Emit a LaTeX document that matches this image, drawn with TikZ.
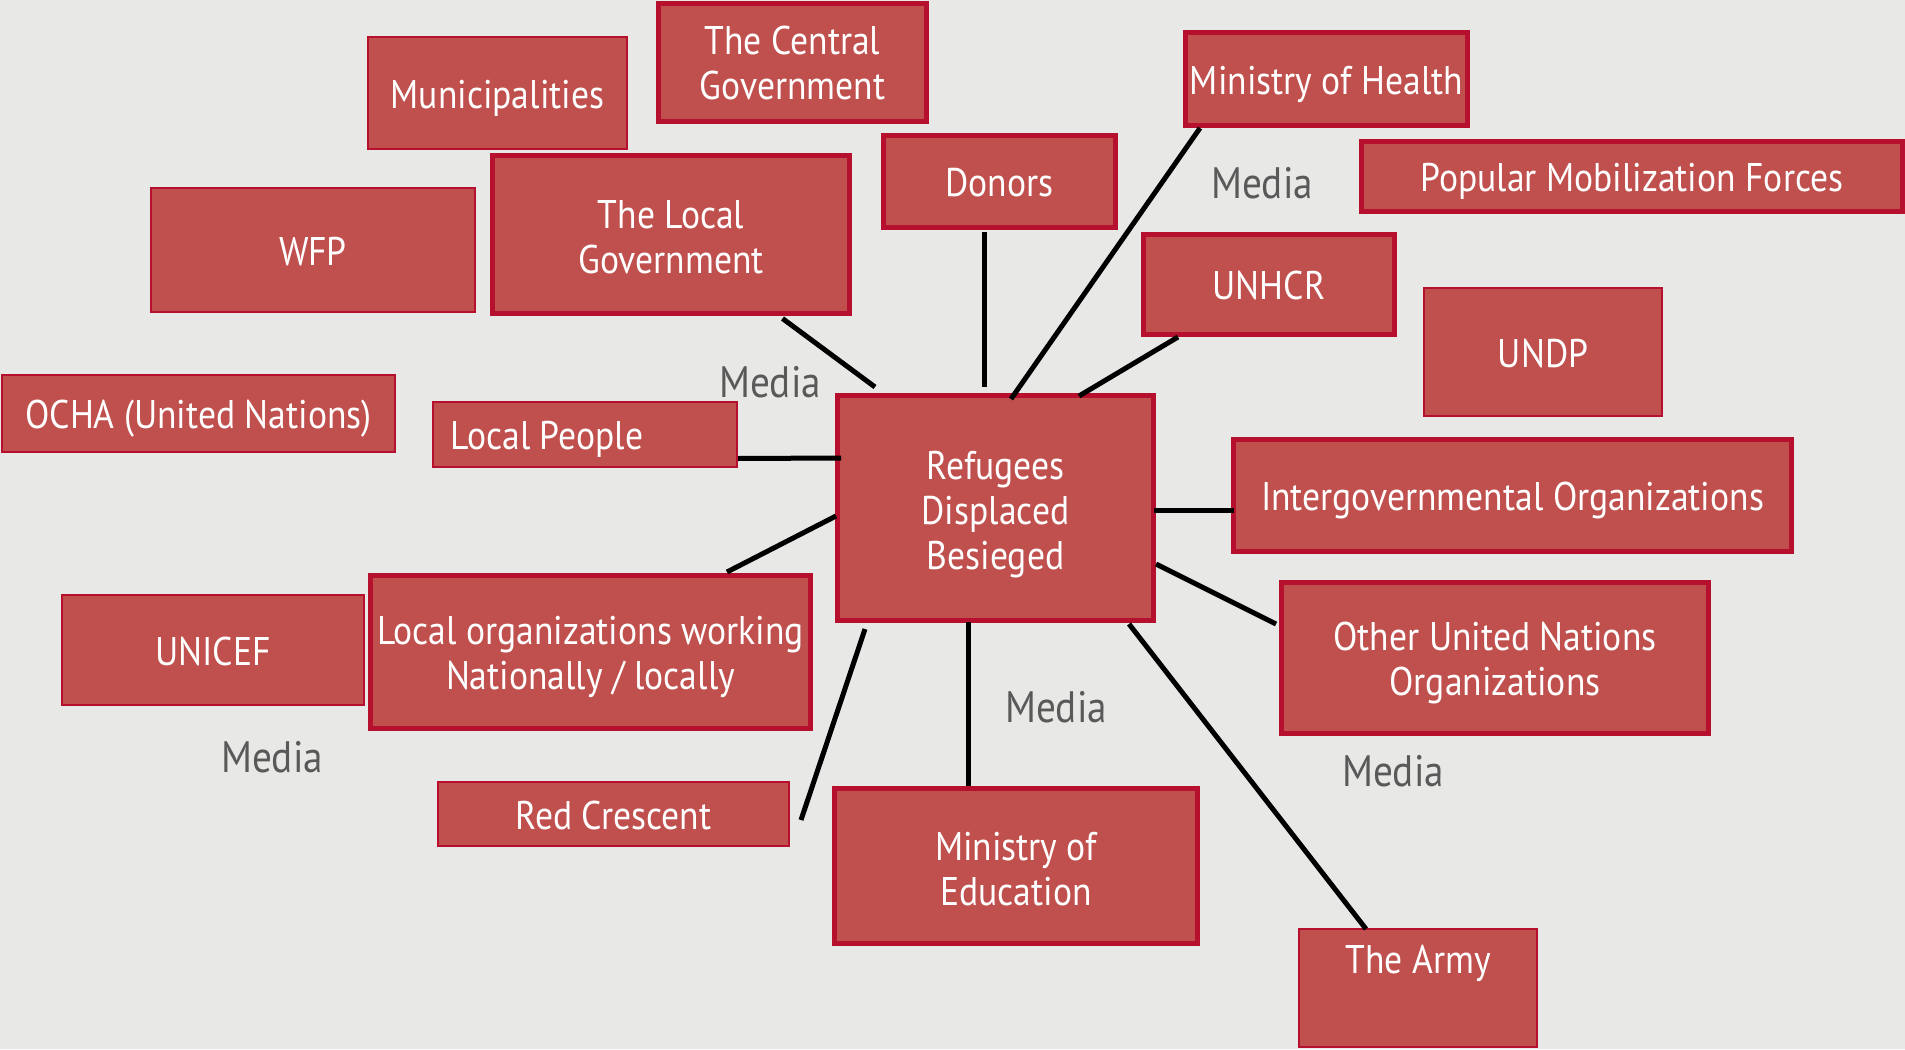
\documentclass[tikz,border=0pt]{standalone}
\usepackage{fontspec}
\setmainfont[FakeStretch=0.89]{PT Sans}
\definecolor{boxfill}{HTML}{C0504D}
\definecolor{boxline}{HTML}{B70F2E}
\definecolor{bgcol}{HTML}{E8E8E6}
\definecolor{mediagray}{HTML}{595959}
\newcommand\strt[1]{\rule{0pt}{#1}}
\begin{document}
\begin{tikzpicture}[x=0.5pt,y=-0.5pt,
  base/.style={fill=boxfill, draw=boxline, text=white, inner sep=0pt, outer sep=0pt, align=center, font=\fontsize{20}{22.5}\selectfont},
  tbox/.style={base, line width=2.5pt},
  sbox/.style={base, line width=1pt},
  one/.style={text height=15pt, text depth=0pt},
  wh/.style 2 args={minimum width=#1*0.5pt, minimum height=#2*0.5pt},
  media/.style={text=mediagray, inner sep=0pt, font=\fontsize{22}{24}\selectfont},
  conn/.style={line width=2.5pt, draw=black}]
\fill[bgcol] (0,0) rectangle (1905,1049);
\useasboundingbox (0,0) rectangle (1905,1049);

\node[tbox, wh={268}{118}] (cg) at (792.5,62.5) {The Central\\Government};
\node[sbox, one, wh={259}{112}] (mun) at (497.5,93) {Municipalities};
\node[tbox, one, wh={232}{92}] (donors) at (999.5,181.5) {Donors};
\node[tbox, one, wh={282}{93}] (moh) at (1326.5,79) {Ministry of Health};
\node[tbox, one, wh={541}{70}] (pmf) at (1632,176.5) {Popular Mobilization Forces};
\node[sbox, one, wh={324}{124}] (wfp) at (313,250) {WFP};
\node[tbox, wh={357}{158}] (lg) at (671,234.5) {\strt{17pt}The Local\\Government};
\node[tbox, one, wh={251}{100}] (unhcr) at (1269,284.5) {UNHCR};
\node[sbox, one, wh={238}{128}] (undp) at (1543,352) {UNDP};
\node[sbox, one, wh={393}{77}] (ocha) at (198.5,413) {OCHA (United Nations)};
\node[sbox, one, wh={304}{65}] (lp) at (585,434) {Local People\hspace*{38pt}};
\node[tbox, wh={316}{225}] (ref) at (995.5,508) {\strt{21pt}Refugees\\Displaced\\Besieged};
\node[tbox, one, wh={558}{112}] (igo) at (1512.5,495.5) {Intergovernmental Organizations};
\node[sbox, one, wh={302}{110}] (unicef) at (213,650) {UNICEF};
\node[tbox, wh={440}{153}] (lo) at (590.5,652) {\strt{19.5pt}Local organizations working\\Nationally / locally};
\node[tbox, wh={427}{151}] (ouno) at (1495,658) {\strt{19.5pt}Other United Nations\\Organizations};
\node[sbox, one, wh={351}{64}] (rc) at (613.5,814) {Red Crescent};
\node[tbox, wh={363}{155}] (moe) at (1016,866) {\strt{17pt}Ministry of\\Education};
\node[sbox, wh={238}{118}, label={[anchor=center, yshift=-17pt, text=white, inner sep=0pt, font=\fontsize{20}{22.5}\selectfont]north:The Army}] (army) at (1418,988) {};

\node[media] (m1) at (770,382) {Media};
\node[media] (m2) at (1262,183) {Media};
\node[media] (m3) at (1056,707) {Media};
\node[media] (m4) at (272,757) {Media};
\node[media] (m5) at (1393,771) {Media};

\draw[conn] ([shift={(290,5)}]lg.south west) -- ([shift={(37.5,-8.5)}]ref.north west);
\draw[conn] ([shift={(100.5,4.5)}]donors.south west) -- ([shift={(146.5,-8.5)}]ref.north west);
\draw[conn] ([shift={(14.5,2.5)}]moh.south west) -- ([shift={(173.5,3.5)}]ref.north west);
\draw[conn] ([shift={(34.5,2.5)}]unhcr.south west) -- ([shift={(241.5,0.5)}]ref.north west);
\draw[conn] ([shift={(1,-8)}]lp.south east) -- ([shift={(3.5,62.5)}]ref.north west);
\draw[conn] ([shift={(356.5,-3.5)}]lo.north west) -- ([shift={(-1.5,120.5)}]ref.north west);
\draw[conn] ([shift={(12,38)}]rc.north east) -- ([shift={(27.5,8.5)}]ref.south west);
\draw[conn] ([shift={(130.5,1.5)}]ref.south west) -- ([shift={(133.5,-2.5)}]moe.north west);
\draw[conn] ([shift={(291.5,3.5)}]ref.south west) -- ([shift={(67,0)}]army.north west);
\draw[conn] ([shift={(2.5,168.5)}]ref.north east) -- ([shift={(-5.5,41.5)}]ouno.north west);
\draw[conn] ([yshift=-1pt]ref.east) -- ([yshift=-1pt]ref.east -| igo.west);
\end{tikzpicture}
\end{document}
